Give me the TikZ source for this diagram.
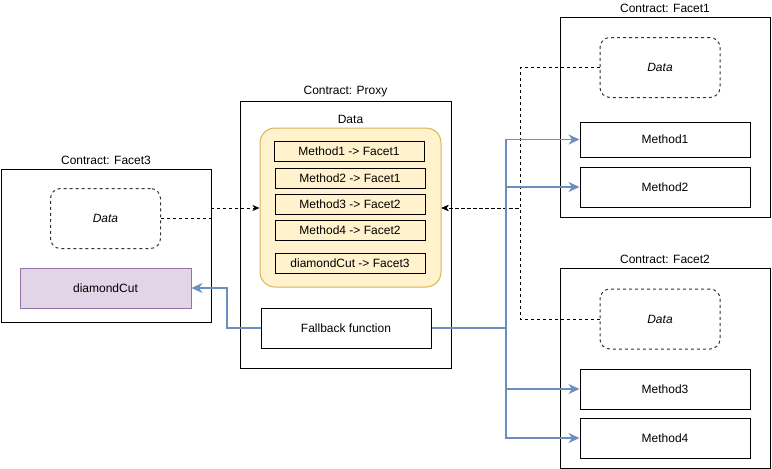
\documentclass[tikz,border=0pt]{standalone}
\usepackage{fontspec}
\setmainfont{Liberation Sans}
\usetikzlibrary{positioning,arrows.meta}
\definecolor{linkblue}{HTML}{6C8EBF}
\definecolor{datafill}{HTML}{FFF2CC}
\definecolor{dataline}{HTML}{D6B656}
\definecolor{cutfill}{HTML}{E1D5E7}
\definecolor{cutline}{HTML}{9673A6}
\begin{document}
\begin{tikzpicture}[x=1pt,y=-1pt,font=\fontsize{12}{14}\selectfont,line width=1pt,
  box/.style 2 args={draw,inner sep=0pt,minimum width=#1,minimum height=#2},
  databox/.style={draw=black!80,dash pattern=on 3pt off 3pt,rounded corners=10pt,inner sep=0pt,
    minimum width=120,minimum height=60,font=\fontsize{12}{14}\selectfont\itshape},
  entry/.style={draw,fill=datafill,inner sep=0pt,minimum width=150,minimum height=20},
  title/.style={inner sep=3pt},
  storelink/.style={draw,dash pattern=on 3pt off 3pt,-{Stealth[length=7pt,width=6pt,inset=2pt]}},
  calllink/.style={draw=linkblue,line width=1.8pt,-{Stealth[length=11pt,width=10pt,inset=3.5pt]}}]
\useasboundingbox (0,0) rectangle (772,469);

% Facet3
\node[box={210}{153}] (fac3) at (106,245.5) {};
\node[title,above=0pt of fac3] (fac3t) {Contract: Facet3};
\node[databox,minimum width=110] (data3) at (105.5,218.5) {Data};
\node[box={171}{40},fill=cutfill,draw=cutline] (cut) at (105.5,288) {diamondCut};

% Proxy
\node[box={211}{267}] (proxy) at (345.5,234.5) {};
\node[title,above=0pt of proxy] (proxyt) {Contract: Proxy};
\node[draw=dataline,fill=datafill,rounded corners=15pt,inner sep=0pt,minimum width=181,minimum height=159] (store) at (350.5,207.5) {};
\node[title,above=0pt of store] (storet) {Data};
\node[entry] (e1) at (349,151) {Method1 -> Facet1};
\node[entry] (e2) at (350,178.5) {Method2 -> Facet1};
\node[entry] (e3) at (350,204) {Method3 -> Facet2};
\node[entry] (e4) at (350,230) {Method4 -> Facet2};
\node[entry] (e5) at (350,263) {diamondCut -> Facet3};
\node[box={170}{40}] (fallback) at (346,328) {Fallback function};

% Facet1
\node[box={210}{200}] (fac1) at (665,117) {};
\node[title,above=0pt of fac1] (fac1t) {Contract: Facet1};
\node[databox] (data1) at (660,67.5) {Data};
\node[box={170}{35}] (m1) at (665,139.5) {Method1};
\node[box={170}{40}] (m2) at (665,187) {Method2};

% Facet2
\node[box={210}{200}] (fac2) at (665,368) {};
\node[title,above=0pt of fac2] (fac2t) {Contract: Facet2};
\node[databox] (data2) at (660,319) {Data};
\node[box={170}{40}] (m3) at (665,389) {Method3};
\node[box={170}{40}] (m4) at (665,438) {Method4};

\coordinate (j3) at (211,208);
\coordinate (j1) at (520,208);
\coordinate (jb) at (506,328);
\coordinate (jd) at (227,288);

\draw[storelink] (data3.east) -| (j3) -- (j3 -| store.west);
\draw[storelink] (data1.west) -| (j1) -- (j1 -| store.east);
\draw[storelink] (data2.west) -| (j1) -- (j1 -| store.east);

\draw[calllink] (fallback.east) -- (jb) |- (m1.west);
\draw[calllink] (jb) |- (m2.west);
\draw[calllink] (jb) |- (m3.west);
\draw[calllink] (jb) |- (m4.west);
\draw[calllink] (fallback.west) -| (jd) -- (cut.east);
\end{tikzpicture}
\end{document}
